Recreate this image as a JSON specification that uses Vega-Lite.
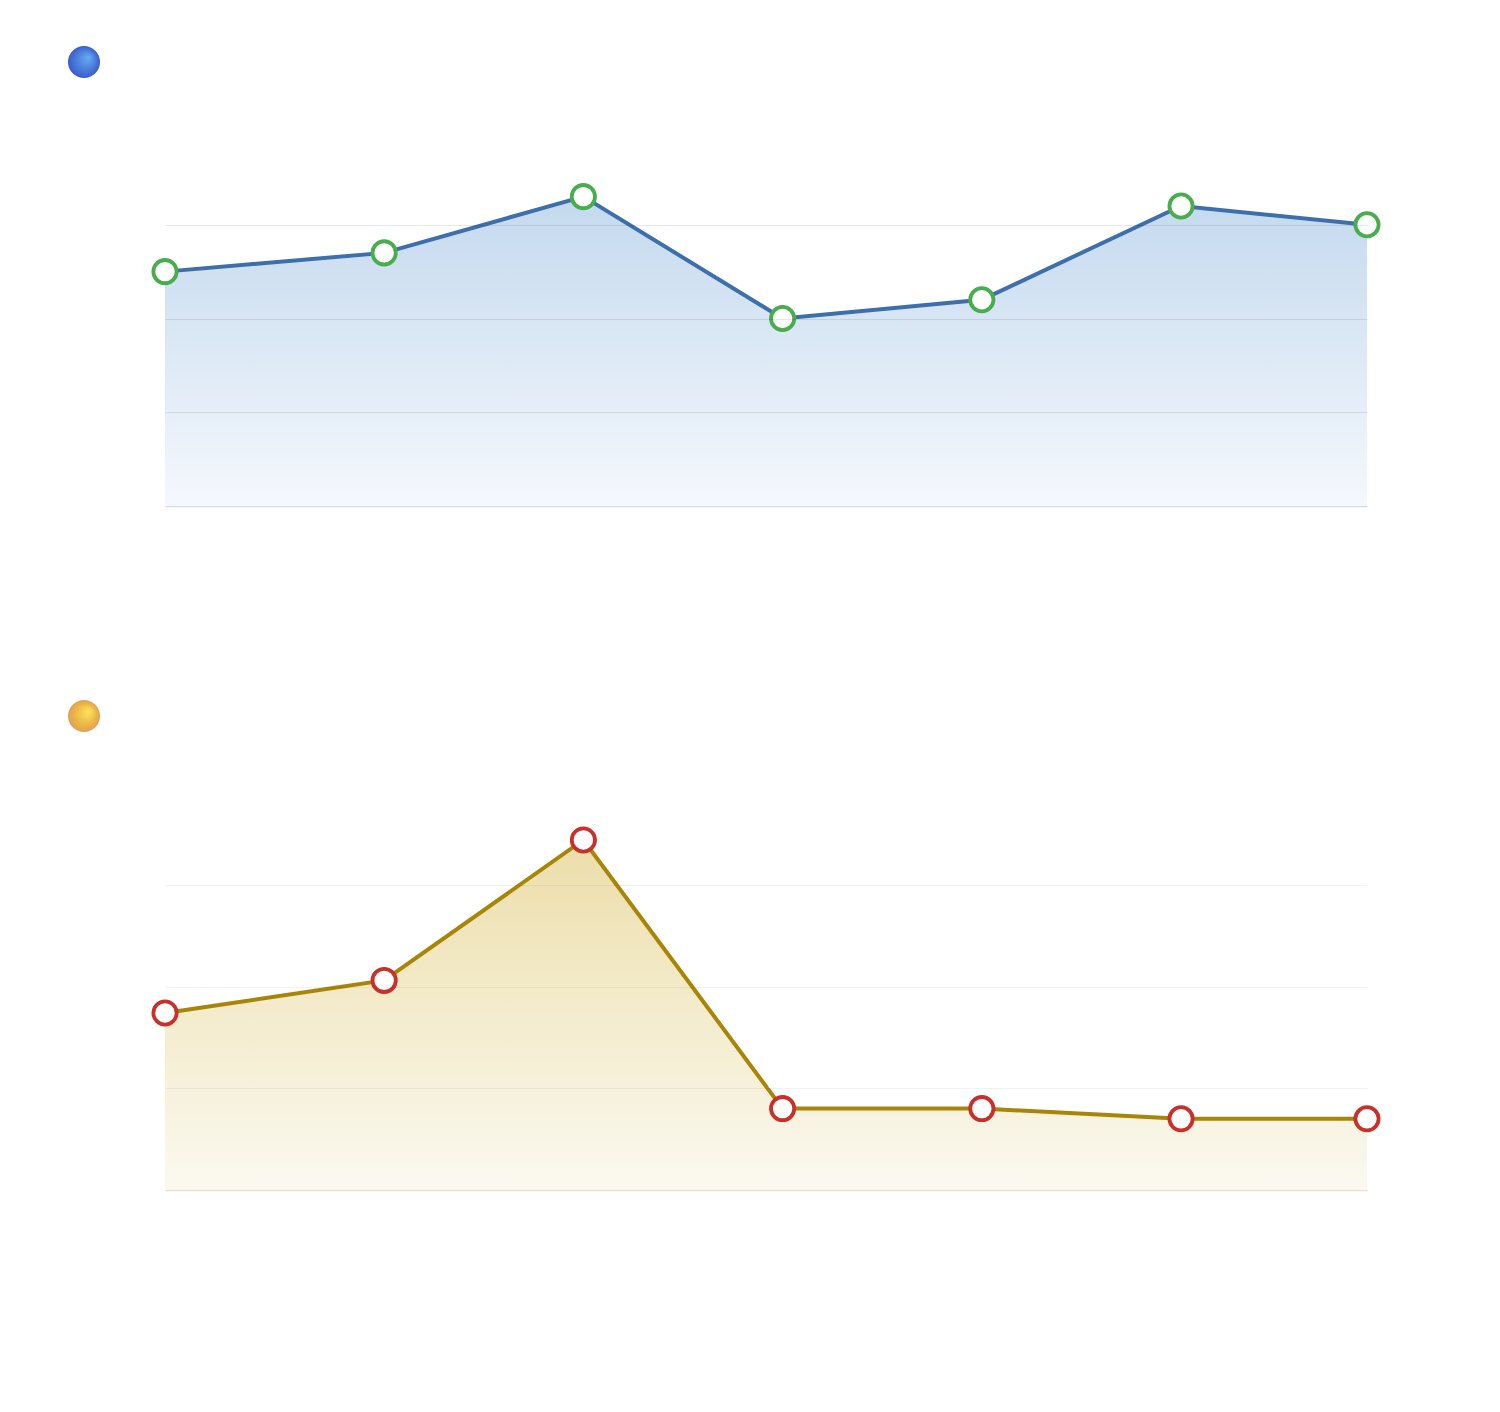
{
  "$schema": "https://vega.github.io/schema/vega-lite/v6.json",
  "background": "white",
  "padding": {"left": 68, "top": 46, "right": 10, "bottom": 10},
  "bounds": "flush",
  "spacing": 277,
  "config": {
    "view": {"stroke": null},
    "font": "Noto Sans",
    "axis": {"labelColor": "white", "titleColor": "white", "ticks": false}
  },
  "datasets": {
    "visits": [
      {"date": "2023-01-01", "value": 25, "series": "Average daily visits per month (thousands)"},
      {"date": "2023-02-03", "value": 27, "series": "Average daily visits per month (thousands)"},
      {"date": "2023-03-05", "value": 33, "series": "Average daily visits per month (thousands)"},
      {"date": "2023-04-04", "value": 20, "series": "Average daily visits per month (thousands)"},
      {"date": "2023-05-04", "value": 22, "series": "Average daily visits per month (thousands)"},
      {"date": "2023-06-03", "value": 32, "series": "Average daily visits per month (thousands)"},
      {"date": "2023-07-01", "value": 30, "series": "Average daily visits per month (thousands)"}
    ],
    "errors": [
      {"date": "2023-01-01", "value": 8.7, "series": "Average daily error rate per month (per thousand)"},
      {"date": "2023-02-03", "value": 10.3, "series": "Average daily error rate per month (per thousand)"},
      {"date": "2023-03-05", "value": 17.2, "series": "Average daily error rate per month (per thousand)"},
      {"date": "2023-04-04", "value": 4.0, "series": "Average daily error rate per month (per thousand)"},
      {"date": "2023-05-04", "value": 4.0, "series": "Average daily error rate per month (per thousand)"},
      {"date": "2023-06-03", "value": 3.5, "series": "Average daily error rate per month (per thousand)"},
      {"date": "2023-07-01", "value": 3.5, "series": "Average daily error rate per month (per thousand)"}
    ]
  },
  "resolve": {
    "scale": {"y": "independent", "color": "independent"},
    "legend": {"color": "independent"},
    "axis": {"x": "independent", "y": "independent"}
  },
  "vconcat": [
    {
      "width": 1202,
      "height": 375,
      "data": {"name": "visits"},
      "encoding": {
        "x": {
          "field": "date", "type": "temporal",
          "scale": {"padding": 0},
          "axis": {
            "title": null, "grid": false, "domainColor": "#d3dae3", "domainWidth": 1.5,
            "labelPadding": 28, "labelFontSize": 14, "tickCount": 7,
            "labelExpr": "[timeFormat(datum.value, '%b %d'), timeFormat(datum.value, '%Y')]"
          }
        },
        "y": {
          "field": "value", "type": "quantitative",
          "scale": {"domain": [0, 40], "nice": false},
          "axis": {
            "title": null, "domain": false, "values": [0, 10, 20, 30, 40],
            "labelFontSize": 14, "labelPadding": 14, "zindex": 1,
            "gridColor": "#000000",
            "gridOpacity": {"condition": {"test": "datum.value == 0 || datum.value == 40", "value": 0}, "value": 0.09}
          }
        }
      },
      "layer": [
        {
          "mark": {
            "type": "area",
            "fill": {
              "gradient": "linear", "x1": 0, "y1": 0, "x2": 0, "y2": 1,
              "stops": [{"offset": 0, "color": "#c4d9ee"}, {"offset": 1, "color": "#f5f8fd"}]
            }
          }
        },
        {
          "mark": {"type": "line", "strokeWidth": 4},
          "encoding": {
            "color": {
              "field": "series", "type": "nominal",
              "scale": {"range": ["#3c6fab"]},
              "legend": {
                "orient": "none", "legendX": -97, "legendY": -85, "title": null,
                "symbolType": "circle", "symbolSize": 1024, "labelColor": "white",
                "labelFontSize": 22, "labelOffset": 28, "labelLimit": 700,
                "encode": {
                  "symbols": {
                    "update": {
                      "fill": {"value": {
                        "gradient": "radial", "x1": 0.65, "y1": 0.35, "r1": 0, "x2": 0.5, "y2": 0.5, "r2": 0.5,
                        "stops": [{"offset": 0, "color": "#66aef2"}, {"offset": 1, "color": "#3a5ccc"}]
                      }},
                      "stroke": {"value": "transparent"},
                      "strokeWidth": {"value": 0},
                      "opacity": {"value": 1}
                    }
                  }
                }
              }
            }
          }
        },
        {
          "mark": {"type": "point", "shape": "circle", "filled": true, "fill": "white", "stroke": "#48ad4c", "strokeWidth": 3.8, "size": 540, "opacity": 1}
        },
        {
          "mark": {"type": "text", "fill": "white", "stroke": "white", "strokeWidth": 5, "fontSize": 16, "dy": -26},
          "encoding": {"text": {"field": "value", "type": "quantitative", "format": ".1f"}}
        }
      ]
    },
    {
      "width": 1202,
      "height": 407,
      "data": {"name": "errors"},
      "encoding": {
        "x": {
          "field": "date", "type": "temporal",
          "scale": {"padding": 0},
          "axis": {
            "title": null, "grid": false, "domainColor": "#e3dfcf", "domainWidth": 1.5,
            "labelPadding": 28, "labelFontSize": 14, "tickCount": 7,
            "labelExpr": "[timeFormat(datum.value, '%b %d'), timeFormat(datum.value, '%Y')]"
          }
        },
        "y": {
          "field": "value", "type": "quantitative",
          "scale": {"domain": [0, 20], "nice": false},
          "axis": {
            "title": null, "domain": false, "values": [0, 5, 10, 15, 20],
            "labelFontSize": 14, "labelPadding": 14, "zindex": 1,
            "gridColor": "#000000",
            "gridOpacity": {"condition": {"test": "datum.value == 0 || datum.value == 20", "value": 0}, "value": 0.05}
          }
        }
      },
      "layer": [
        {
          "mark": {
            "type": "area",
            "fill": {
              "gradient": "linear", "x1": 0, "y1": 0, "x2": 0, "y2": 1,
              "stops": [{"offset": 0, "color": "#ecdeaa"}, {"offset": 1, "color": "#fbf9f0"}]
            }
          }
        },
        {
          "mark": {"type": "line", "strokeWidth": 4},
          "encoding": {
            "color": {
              "field": "series", "type": "nominal",
              "scale": {"range": ["#a88407"]},
              "legend": {
                "orient": "none", "legendX": -97, "legendY": -83, "title": null,
                "symbolType": "circle", "symbolSize": 1024, "labelColor": "white",
                "labelFontSize": 22, "labelOffset": 28, "labelLimit": 700,
                "encode": {
                  "symbols": {
                    "update": {
                      "fill": {"value": {
                        "gradient": "radial", "x1": 0.65, "y1": 0.35, "r1": 0, "x2": 0.5, "y2": 0.5, "r2": 0.5,
                        "stops": [{"offset": 0, "color": "#ffe45c"}, {"offset": 0.7, "color": "#eab445"}, {"offset": 1, "color": "#e0a057"}]
                      }},
                      "stroke": {"value": "transparent"},
                      "strokeWidth": {"value": 0},
                      "opacity": {"value": 1}
                    }
                  }
                }
              }
            }
          }
        },
        {
          "mark": {"type": "point", "shape": "circle", "filled": true, "fill": "white", "stroke": "#c8302a", "strokeWidth": 3.8, "size": 540, "opacity": 1}
        },
        {
          "mark": {"type": "text", "fill": "white", "stroke": "white", "strokeWidth": 5, "fontSize": 16, "dy": -26},
          "encoding": {"text": {"field": "value", "type": "quantitative", "format": ".1f"}}
        }
      ]
    }
  ]
}
